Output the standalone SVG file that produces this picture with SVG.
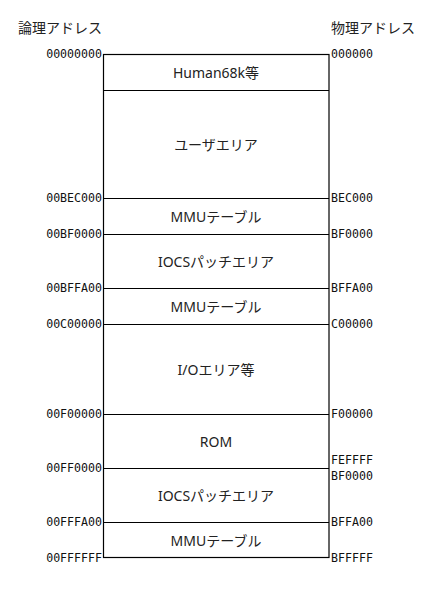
<svg xmlns="http://www.w3.org/2000/svg" width="436" height="607" viewBox="0 0 436 607">
<style>
.hd{font-family:"Noto Sans CJK JP","Noto Sans",sans-serif;font-size:14px;fill:#222}
.lb{font-family:"Noto Sans","Noto Sans CJK JP",sans-serif;font-size:14px;fill:#222;text-anchor:middle;dominant-baseline:central}
.ad{font-family:"DejaVu Sans Mono","Liberation Mono",monospace;font-size:11.6px;fill:#111;dominant-baseline:central}
.l{text-anchor:end}
.r{text-anchor:start}
.ln{stroke:#000;stroke-width:1.2;fill:none}
</style>
<rect width="436" height="607" fill="#fff"/>
<g id="headings">
<text class="hd" x="18" y="33">論理アドレス</text>
<text class="hd" x="331" y="33">物理アドレス</text>
</g>
<g id="connectors">
<rect class="ln" x="103.5" y="54.5" width="225.5" height="503"/>
<line class="ln" x1="103.5" y1="90.5" x2="329" y2="90.5"/>
<line class="ln" x1="103.5" y1="198.5" x2="329" y2="198.5"/>
<line class="ln" x1="103.5" y1="234.5" x2="329" y2="234.5"/>
<line class="ln" x1="103.5" y1="288.5" x2="329" y2="288.5"/>
<line class="ln" x1="103.5" y1="324.5" x2="329" y2="324.5"/>
<line class="ln" x1="103.5" y1="414.5" x2="329" y2="414.5"/>
<line class="ln" x1="103.5" y1="468.5" x2="329" y2="468.5"/>
<line class="ln" x1="103.5" y1="522.5" x2="329" y2="522.5"/>
</g>
<g id="node-human68k"><text class="lb" x="216" y="72.5">Human68k等</text></g>
<g id="node-user"><text class="lb" x="216" y="144.5">ユーザエリア</text></g>
<g id="node-mmu1"><text class="lb" x="216" y="216.5">MMUテーブル</text></g>
<g id="node-iocs1"><text class="lb" x="216" y="261.5">IOCSパッチエリア</text></g>
<g id="node-mmu2"><text class="lb" x="216" y="306.5">MMUテーブル</text></g>
<g id="node-io"><text class="lb" x="216" y="369.5">I/Oエリア等</text></g>
<g id="node-rom"><text class="lb" x="216" y="441.5">ROM</text></g>
<g id="node-iocs2"><text class="lb" x="216" y="495.5">IOCSパッチエリア</text></g>
<g id="node-mmu3"><text class="lb" x="216" y="540">MMUテーブル</text></g>
<g id="logical-addresses">
<text class="ad l" x="102" y="54">00000000</text>
<text class="ad l" x="102" y="198">00BEC000</text>
<text class="ad l" x="102" y="234">00BF0000</text>
<text class="ad l" x="102" y="288">00BFFA00</text>
<text class="ad l" x="102" y="324">00C00000</text>
<text class="ad l" x="102" y="414">00F00000</text>
<text class="ad l" x="102" y="468">00FF0000</text>
<text class="ad l" x="102" y="522">00FFFA00</text>
<text class="ad l" x="102" y="557.5">00FFFFFF</text>
</g>
<g id="physical-addresses">
<text class="ad r" x="331" y="54">000000</text>
<text class="ad r" x="331" y="198">BEC000</text>
<text class="ad r" x="331" y="234">BF0000</text>
<text class="ad r" x="331" y="288">BFFA00</text>
<text class="ad r" x="331" y="324">C00000</text>
<text class="ad r" x="331" y="414">F00000</text>
<text class="ad r" x="331" y="460">FEFFFF</text>
<text class="ad r" x="331" y="476">BF0000</text>
<text class="ad r" x="331" y="522">BFFA00</text>
<text class="ad r" x="331" y="557.5">BFFFFF</text>
</g>
</svg>
